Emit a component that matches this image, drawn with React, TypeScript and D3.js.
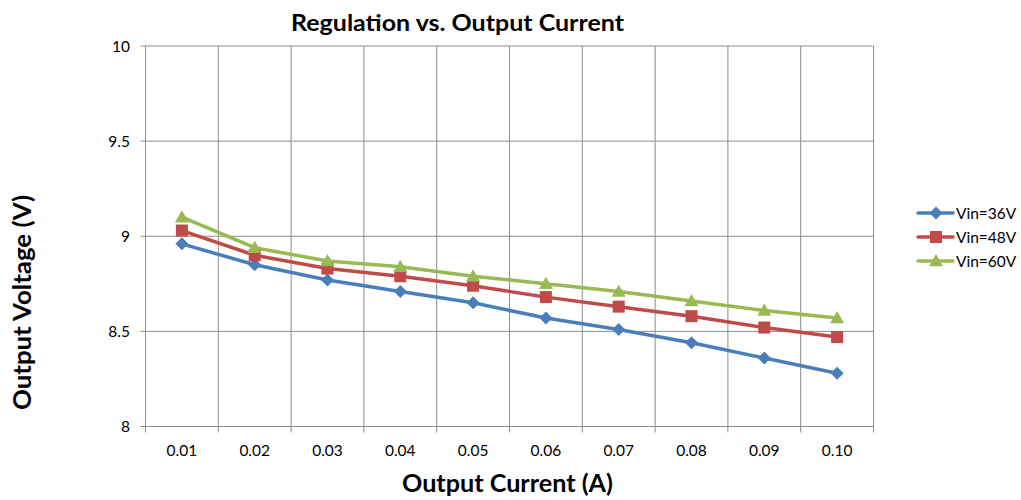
import React from "react";
import * as d3 from "d3";

const categories = ["0.01", "0.02", "0.03", "0.04", "0.05", "0.06", "0.07", "0.08", "0.09", "0.10"];
const vin36 = [8.96, 8.85, 8.77, 8.71, 8.65, 8.57, 8.51, 8.44, 8.36, 8.28];
const vin48 = [9.03, 8.90, 8.83, 8.79, 8.74, 8.68, 8.63, 8.58, 8.52, 8.47];
const vin60 = [9.10, 8.94, 8.87, 8.84, 8.79, 8.75, 8.71, 8.66, 8.61, 8.57];
const seriesNames = ["Vin=36V", "Vin=48V", "Vin=60V"];
const yTicks = [8, 8.5, 9, 9.5, 10];

const colors = ["#4a7ebb", "#be4b48", "#98b954"];
const FONT = "Lato, 'Open Sans', sans-serif";

export default function App() {
  const W = 1021, H = 500;
  const left = 145.5, right = 873.5, top = 46, bottom = 426.5;
  const x = d3.scaleBand<string>().domain(categories).range([left, right]);
  const y = d3.scaleLinear().domain([8, 10]).range([bottom, top]);
  const series = [vin36, vin48, vin60];
  const line = d3.line<number>()
    .x((_, i) => (x(categories[i]) as number) + x.bandwidth() / 2)
    .y((d) => y(d));

  const marker = (s: number, cx: number, cy: number, key: string) => {
    if (s === 0) {
      const r = 6.5;
      return <path key={key} d={`M${cx},${cy - r}L${cx + r},${cy}L${cx},${cy + r}L${cx - r},${cy}Z`} fill={colors[0]} />;
    }
    if (s === 1) {
      const r = 6;
      return <rect key={key} x={cx - r} y={cy - r} width={2 * r} height={2 * r} fill={colors[1]} />;
    }
    const r = 7;
    return <path key={key} d={`M${cx},${cy - r}L${cx + r},${cy + r * 0.75}L${cx - r},${cy + r * 0.75}Z`} fill={colors[2]} />;
  };

  const gridX = d3.range(categories.length + 1).map((i) => left + i * x.step());

  return (
    <svg width={W} height={H} style={{ position: "absolute", left: 0, top: 0 }} fontFamily={FONT}>
      <rect width={W} height={H} fill="#fff" />
      <text x={291} y={31} fontSize={23} fontWeight="bold" textLength={333} lengthAdjust="spacingAndGlyphs">Regulation vs. Output Current</text>
      {yTicks.map((t) => (
        <g key={t}>
          <line x1={left - 5} x2={right} y1={y(t)} y2={y(t)} stroke="#8c8c8c" strokeWidth={1} />
          <text x={130} y={y(t) + 5.5} textAnchor="end" fontSize={15.5}>{t}</text>
        </g>
      ))}
      {gridX.map((gx, i) => (
        <line key={i} x1={gx} x2={gx} y1={top} y2={bottom + 6} stroke="#8c8c8c" strokeWidth={1} />
      ))}
      {categories.map((c) => (
        <text key={c} x={(x(c) as number) + x.bandwidth() / 2} y={456} textAnchor="middle" fontSize={15.5}>{c}</text>
      ))}
      {series.map((s, si) => (
        <path key={si} d={line(s) as string} fill="none" stroke={colors[si]} strokeWidth={3.5} strokeLinejoin="round" strokeLinecap="round" />
      ))}
      {series.map((s, si) =>
        s.map((v, i) => marker(si, (x(categories[i]) as number) + x.bandwidth() / 2, y(v), `${si}-${i}`))
      )}
      <text x={402} y={492} fontSize={25} fontWeight="bold" textLength={211} lengthAdjust="spacingAndGlyphs">Output Current (A)</text>
      <text transform={`translate(31,410) rotate(-90)`} fontSize={25} fontWeight="bold" textLength={215} lengthAdjust="spacingAndGlyphs">Output Voltage (V)</text>
      {seriesNames.map((n, si) => {
        const ly = 213 + si * 24;
        return (
          <g key={n}>
            <line x1={918} x2={953} y1={ly} y2={ly} stroke={colors[si]} strokeWidth={3.5} strokeLinecap="round" />
            {marker(si, 936, ly, `l${si}`)}
            <text x={956} y={ly + 5.5} fontSize={15.5}>{n}</text>
          </g>
        );
      })}
    </svg>
  );
}
